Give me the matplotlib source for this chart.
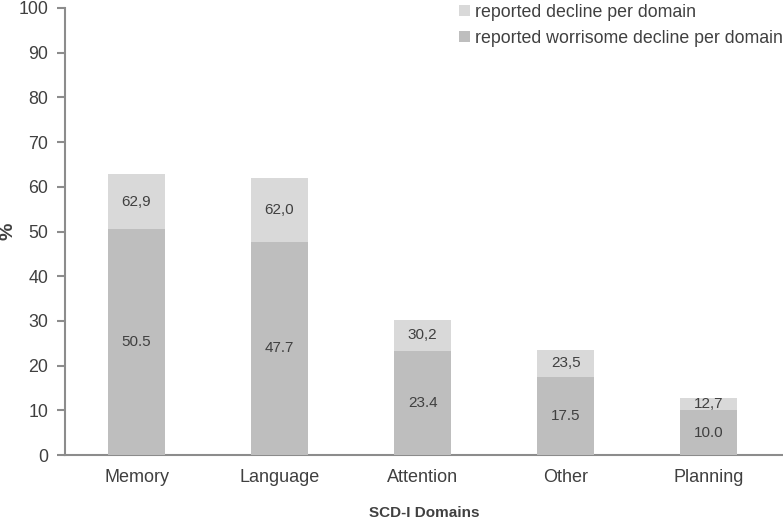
import matplotlib.pyplot as plt
import numpy as np

plt.rcParams['font.family'] = ['Liberation Sans', 'DejaVu Sans']

domains = ["Memory", "Language", "Attention", "Other", "Planning"]
decline = [62.9, 62.0, 30.2, 23.5, 12.7]
worrisome = [50.5, 47.7, 23.4, 17.5, 10.0]
decline_labels = ["62,9", "62,0", "30,2", "23,5", "12,7"]
worrisome_labels = ["50.5", "47.7", "23.4", "17.5", "10.0"]

LIGHT = "#d9d9d9"
DARK = "#bebebe"
TEXT = "#404040"
AXIS = "#8c8c8c"

fig = plt.figure(figsize=(7.83, 5.22), dpi=100)
ax = fig.add_axes([0.083, 0.128, 0.917, 0.857])

x = np.arange(len(domains))
width = 0.4
ax.bar(x, decline, width, color=LIGHT, label="reported decline per domain", zorder=2)
ax.bar(x, worrisome, width, color=DARK, label="reported worrisome decline per domain", zorder=3)

# labels centred in each segment
for xi, d, w, dl, wl in zip(x, decline, worrisome, decline_labels, worrisome_labels):
    ax.text(xi, (d + w) / 2, dl, ha="center", va="center", fontsize=11, color=TEXT, zorder=4)
    ax.text(xi, w / 2, wl, ha="center", va="center", fontsize=11, color=TEXT, zorder=4)

ax.set_ylim(0, 100)
ax.set_xlim(-0.5, 4.52)
ax.set_yticks(np.arange(0, 101, 10))
ax.set_xticks(x)
ax.set_xticklabels(domains)

for side in ["top", "right"]:
    ax.spines[side].set_visible(False)
for side in ["left", "bottom"]:
    ax.spines[side].set_color(AXIS)
    ax.spines[side].set_linewidth(1.5)

ax.tick_params(axis="y", direction="out", length=6, width=1.5, color=AXIS,
               labelsize=12.8, labelcolor=TEXT, pad=6)
ax.tick_params(axis="x", length=0, labelsize=13, labelcolor=TEXT, pad=10)

ax.set_xlabel("SCD-I Domains", fontsize=11, fontweight="bold", color=TEXT, labelpad=14)
ax.set_ylabel("%", fontsize=14, fontweight="bold", color=TEXT)
ax.yaxis.set_label_coords(-0.068, 0.5)

ax.legend(loc="upper right", bbox_to_anchor=(1.01, 1.025), frameon=False, fontsize=12.8,
          handlelength=0.6, handleheight=0.6, handletextpad=0.3, labelspacing=0.5,
          labelcolor=TEXT, borderaxespad=0)

fig.savefig("out.png", dpi=100)
